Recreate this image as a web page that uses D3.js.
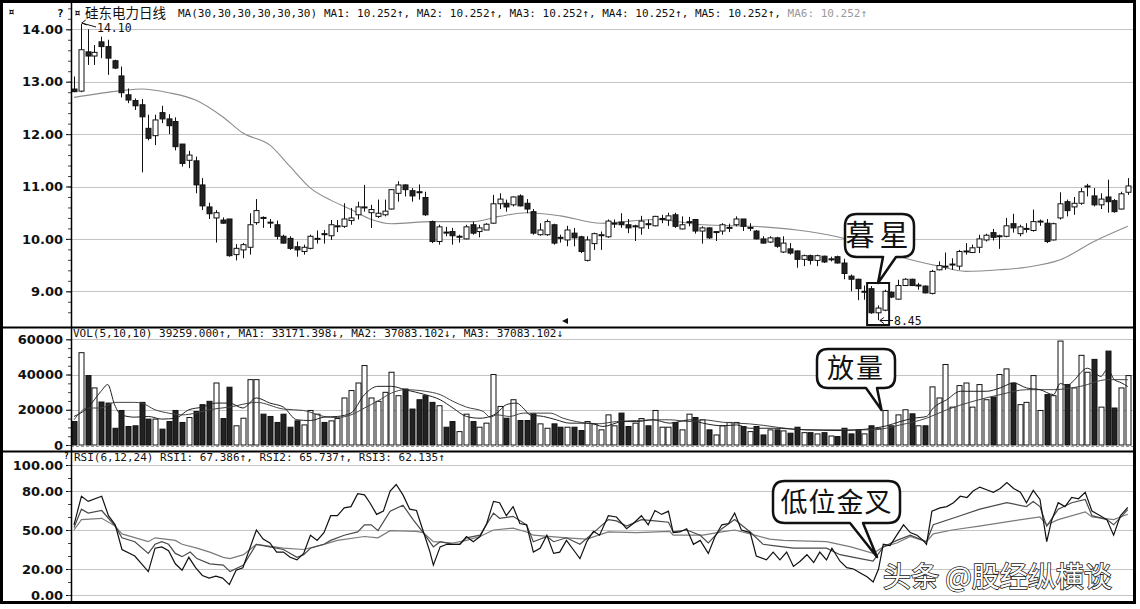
<!DOCTYPE html>
<html><head><meta charset="utf-8">
<script src="https://cdn.jsdelivr.net/npm/d3@7"></script>
<style>body{margin:0;background:#fff}svg{display:block}</style>
</head><body>
<svg id="c" width="1140" height="609"></svg>
<script>
// ---------------- DATA ----------------
const opens = [12.86,12.82,13.57,13.49,13.76,13.67,13.40,13.11,12.75,12.64,
12.56,12.11,11.97,12.41,12.29,12.24,11.81,11.50,11.49,11.03,
10.61,10.40,10.36,10.38,9.70,9.79,9.84,10.31,10.41,10.32,
10.27,10.05,10.01,9.85,9.76,9.82,10.00,10.10,10.06,10.24,
10.24,10.35,10.46,10.60,10.50,10.43,10.46,10.57,10.87,11.03,
10.92,10.90,10.79,10.33,9.95,10.13,10.14,10.05,10.00,10.27,
10.14,10.17,10.30,10.67,10.68,10.65,10.82,10.68,10.52,10.08,
10.08,10.27,10.03,9.98,10.11,10.04,9.59,9.91,10.07,10.04,
10.29,10.32,10.27,10.24,10.21,10.29,10.25,10.38,10.36,10.46,
10.19,10.32,10.37,10.15,10.21,10.13,10.15,10.21,10.27,10.38,
10.21,10.15,10.00,9.94,10.02,9.75,9.81,9.77,9.61,9.68,
9.59,9.67,9.61,9.66,9.54,9.29,9.23,8.99,9.05,8.59,
8.64,8.98,8.85,9.11,9.23,9.11,9.10,8.96,9.41,9.47,
9.51,9.48,9.76,9.74,9.84,9.98,10.12,10.05,10.05,10.29,
10.10,10.19,10.16,10.33,10.30,9.98,10.40,10.71,10.61,10.68,
11.00,10.82,10.65,10.80,10.73,10.57,10.89];
const highs = [13.10,14.10,14.00,13.70,13.86,13.80,13.42,13.29,12.87,12.68,
12.67,12.37,12.37,12.54,12.38,12.32,11.81,11.68,11.57,11.16,
10.69,10.55,10.41,10.38,9.90,9.92,10.49,10.76,10.43,10.38,
10.35,10.08,10.05,9.95,9.89,10.08,10.16,10.17,10.36,10.36,
10.68,10.59,10.71,11.03,10.65,10.75,10.75,10.95,11.10,11.04,
10.97,11.04,10.90,10.35,10.27,10.23,10.21,10.08,10.27,10.33,
10.27,10.30,10.84,10.87,10.75,10.81,10.85,10.76,10.57,10.30,
10.37,10.29,10.08,10.25,10.21,10.06,10.05,10.12,10.14,10.37,
10.37,10.49,10.38,10.27,10.44,10.37,10.44,10.46,10.50,10.50,
10.43,10.42,10.38,10.24,10.22,10.15,10.30,10.29,10.43,10.38,
10.30,10.17,10.05,10.05,10.04,10.05,9.92,9.78,9.70,9.70,
9.70,9.68,9.66,9.68,9.62,9.32,9.24,9.11,9.10,8.73,
9.03,9.00,9.22,9.25,9.24,9.16,9.11,9.41,9.57,9.74,
9.63,9.79,9.92,9.89,10.08,10.10,10.19,10.08,10.40,10.48,
10.27,10.30,10.56,10.37,10.38,10.31,10.89,10.75,10.80,10.97,
11.05,10.97,10.87,11.13,10.76,10.90,11.16];
const lows = [12.80,12.80,13.32,13.32,13.45,13.13,13.24,12.70,12.59,12.46,
11.27,11.88,11.79,12.21,12.00,11.69,11.38,11.35,10.87,10.55,
10.38,9.93,10.29,9.66,9.59,9.63,9.70,10.27,10.21,10.21,
9.99,9.91,9.79,9.66,9.70,9.80,9.91,9.91,9.98,10.13,
10.21,10.27,10.37,10.52,10.21,10.40,10.43,10.56,10.71,10.81,
10.71,10.75,10.44,9.92,9.89,10.05,9.89,9.93,9.99,10.08,
10.03,10.17,10.29,10.57,10.52,10.62,10.62,10.49,10.08,10.06,
10.06,9.89,9.93,9.86,9.86,9.73,9.57,9.79,9.79,10.02,
10.21,10.21,10.11,9.96,10.08,10.19,10.24,10.30,10.25,10.21,
10.18,10.24,10.10,9.91,10.00,9.96,10.08,10.13,10.24,10.15,
10.15,9.99,9.91,9.92,9.83,9.73,9.70,9.45,9.48,9.51,
9.48,9.54,9.57,9.53,9.23,9.00,8.83,8.84,8.57,8.45,
8.62,8.87,8.84,9.10,9.10,9.03,8.96,8.94,9.40,9.41,
9.41,9.41,9.70,9.73,9.73,9.95,9.97,9.81,10.03,10.12,
10.05,10.12,10.14,10.25,9.92,9.97,10.37,10.43,10.46,10.65,
10.81,10.62,10.57,10.50,10.50,10.56,10.84];
const closes = [12.81,13.61,13.49,13.56,13.67,13.45,13.26,12.79,12.65,12.54,
12.33,11.92,12.27,12.29,12.16,11.76,11.44,11.60,11.03,10.63,
10.48,10.50,10.30,9.68,9.82,9.89,10.27,10.54,10.39,10.31,
10.05,9.92,9.82,9.79,9.84,10.05,10.01,10.08,10.27,10.25,
10.38,10.40,10.61,10.61,10.56,10.49,10.53,10.94,11.03,10.94,
10.82,10.89,10.46,9.95,10.23,10.12,10.06,10.05,10.23,10.11,
10.21,10.28,10.67,10.76,10.61,10.80,10.63,10.57,10.11,10.17,
10.33,9.92,10.02,10.17,10.02,9.76,9.98,10.10,10.08,10.34,
10.30,10.27,10.21,10.25,10.34,10.28,10.43,10.39,10.44,10.24,
10.27,10.33,10.15,10.21,10.02,10.14,10.27,10.22,10.38,10.24,
10.22,10.00,9.92,10.02,9.86,9.92,9.73,9.61,9.68,9.59,
9.68,9.56,9.62,9.54,9.34,9.23,9.05,9.00,8.59,8.68,
9.00,8.89,9.11,9.23,9.11,9.12,8.97,9.38,9.49,9.48,
9.52,9.76,9.77,9.83,10.00,10.07,10.03,10.06,10.25,10.21,
10.23,10.20,10.33,10.34,9.95,10.29,10.67,10.54,10.68,10.90,
11.01,10.65,10.76,10.71,10.52,10.86,11.01];
const volumes = [13300,52400,39400,32400,24400,23800,9500,19600,10500,10900,
24200,14700,14700,9000,13300,19600,12800,15600,19000,22900,
24800,35200,15000,32800,10900,15200,37100,37100,17500,16200,
12800,17500,10100,13700,11400,19600,17500,12800,13700,15000,
26700,30900,35200,45100,26700,24800,29900,41300,28000,31800,
20400,25700,28000,24200,22300,10100,13300,7600,17500,13300,
10100,12400,40000,21900,15200,25700,13900,13900,17700,12000,
9500,12000,10100,10100,10100,8200,13300,12000,8600,17100,
10900,18100,10500,12400,15000,10900,19600,10100,10100,12800,
8600,17500,15600,14300,8600,5700,10900,12800,12800,10500,
7600,10500,5700,8600,8600,8000,6700,10100,7000,7000,
6300,7000,5100,4800,9500,6300,8600,6300,10900,9500,
19600,10900,17100,20000,17700,10900,10900,33000,26700,45700,
21500,33700,35200,21500,34300,25700,27200,40000,43200,35200,
22900,24200,39400,19600,28600,28000,59000,34300,32400,50900,
41300,48600,21500,53300,21000,32400,39400];
// price MA30: [candle index, value]
const ma30 = [[1,12.70],[8,12.83],[11,12.86],[15,12.79],[19,12.65],[23,12.33],[26,12.02],[30,11.79],[33,11.38],[36,10.97],[39,10.74],[42,10.56],[45,10.37],[48,10.29],[54,10.33],[60,10.33],[64,10.43],[68,10.50],[73,10.44],[79,10.30],[87,10.37],[94,10.27],[103,10.23],[108,10.17],[114,10.04],[118,9.90],[123,9.67],[129,9.48],[133,9.38],[138,9.41],[142,9.46],[147,9.60],[152,9.95],[157,10.24]];
const volMa5 = [[1,16200],[3,21000],[5,30500],[6,34300],[7,22900],[8,17100],[10,15800],[12,16200],[14,14700],[16,15200],[18,20000],[20,21500],[22,23800],[24,23800],[26,21000],[28,26700],[30,23800],[32,21500],[34,14300],[36,13900],[38,15800],[40,16200],[42,18100],[44,28600],[46,33300],[48,33300],[50,31400],[53,28600],[55.2,25700],[57.1,21000],[59.1,16200],[61.1,15200],[62.6,16200],[63.6,18100],[65,22900],[66.5,23800],[67.5,21000],[68.5,17100],[70.5,16200],[72.4,14300],[74.4,12400],[77.4,12400],[79.3,10500],[82.3,13300],[84.3,13300],[86.7,14300],[89.2,12400],[92.2,14300],[94.1,12400],[97.1,10900],[99.1,11400],[101,9500],[104.5,9500],[109.5,8600],[114.4,8200],[119.3,9500],[121.3,10900],[123.3,13300],[125.3,15200],[127.2,16200],[128.2,21000],[130.2,25700],[132.2,30500],[134.1,30500],[136.1,30500],[138.1,32400],[140.1,35200],[142,32400],[144,31400],[146,28600],[147,34900],[148,33900],[149,36500],[150,40900],[151,43600],[152,41500],[153,38900],[154,43100],[155,37100],[156,35400],[157,33171]];
const volMa10 = [[1,14300],[3,21000],[5,21000],[7,24200],[10,24200],[11,23800],[13,20000],[15,18100],[17,17100],[19,18100],[21,20000],[24,21500],[28,24200],[32,20400],[35,19600],[38,16200],[40,15600],[42,17100],[44,21000],[46,25000],[48,29500],[50,31400],[53,30500],[55.2,28600],[57.1,24800],[59.1,21500],[61.6,19000],[62.6,15800],[63.6,17100],[65.5,16200],[67.5,18100],[69.5,18100],[71.5,18100],[73.4,15200],[75.4,13300],[78.4,12000],[81.3,13300],[84.3,13900],[87.2,14300],[89.2,14300],[92.2,13300],[94.1,14300],[97.1,12900],[101,12000],[109.5,8600],[119.3,8600],[123.3,11400],[127.2,15200],[130.2,20000],[134.1,24800],[138.1,28600],[142,31400],[146,31400],[150,33300],[154,37100],[157,37083]];
const rsi1 = [[1,54],[2.1,76],[3.1,72],[5.1,76],[6.1,61],[7.1,54],[8.1,35],[10,30],[12,18],[13,36],[14,37],[15,34],[16,24],[17,19],[18,29],[19,21],[20,15],[21,13],[22,14.5],[23,13],[24,8],[25,19],[26,21],[28,50],[29,43],[30,40],[31,33],[32,33],[33,29],[34,27],[35,32],[36,46],[37,42],[38,48],[39,61],[40,61],[41,67],[42,68],[43,78],[44,77],[44.8,71],[45.8,62],[46.8,64.5],[47.8,80],[48.7,85],[49.7,77],[50.7,66],[51.7,65],[52.7,49],[53.7,33],[54.2,23],[55.2,37],[56.2,39],[57.1,39],[58.1,39],[59.1,45],[60.1,41],[61.1,45],[62.1,55],[63.1,72],[64,71],[65,61],[66,68],[67,55],[68,54],[69,33],[70,36],[71,46],[72,32],[72.9,33],[73.9,42],[74.9,35],[75.9,28],[76.9,41],[77.9,49],[78.8,46],[80.1,61],[81.3,60],[82.8,51],[83.8,55],[85,61],[86,54],[87,65],[88,62],[89,64.5],[89.7,48],[90.7,48.5],[91.7,51],[92.7,39],[93.7,42],[94.9,32],[95.9,45],[96.9,54],[97.9,55],[98.8,63],[99.8,50],[101.1,48],[102,30],[103.5,27],[104.5,33],[105.5,27],[106.5,33],[107.5,22],[108.5,26],[109.5,31],[110.5,25],[111.4,33],[112.4,27],[113.2,36],[114.4,26],[115.4,21],[116.4,20],[117.4,17],[118.4,14],[119.3,10],[120.1,20],[120.8,39],[121.8,38],[122.8,46],[123.8,54],[124.8,48],[125.8,46],[126.7,42],[127.2,39],[128,64.5],[129.2,67],[130.2,68],[131.2,71],[132.2,76],[133.2,75],[134.1,80],[135.1,83],[136.1,81],[137.1,79],[138.1,82],[139.1,86.5],[140.1,82],[141.1,79],[142,71],[143,80.5],[144,73.5],[145,41],[145.7,57],[146.7,71],[147.7,68],[148.7,75],[149.7,74],[150.7,79],[151.7,64.5],[152.6,62],[153.9,58],[154.9,46],[155.9,61],[157,67.4]];
const rsi2 = [[1,52],[2.1,66],[3.1,63],[5.1,65],[7.1,53],[8.1,44],[10,41],[12,32],[13,39],[14,41],[15,39],[16,32],[17,29.5],[18.2,33],[19.2,28],[21.1,24],[23.1,23],[24.1,18],[26.1,23],[28,39],[30,37],[32,35],[34,29],[35,31],[36,36],[38,39],[39,42],[41,46],[43,48.5],[44,54],[45,54],[46,49.5],[47.8,64.5],[49.7,69],[51.2,58],[52.7,48],[54.2,37],[55.2,41],[57.1,39],[58.1,39],[59.1,44],[61.1,46],[63.1,63],[64,59],[66,60.5],[68,54],[69,41],[71,45],[72,41],[73.9,44],[75.9,39],[77.9,48],[80.1,58],[81.3,57],[82.8,53],[85,58],[87,57],[89,56],[89.7,48.5],[91.7,50],[93.7,46],[94.9,40],[96.9,51],[98.8,58],[101.1,48.5],[103,39],[104.5,38],[107.5,36],[112.4,36],[114.4,31],[117.4,28],[119.3,26],[120.8,37],[122.8,42],[124.8,46],[127.2,41],[128.2,54],[132.2,61],[135.1,66],[139.1,71],[142,68],[143,72],[144,68],[145,53],[146.7,66],[148.7,71],[150.7,73.5],[151.7,61],[153.9,58],[154.9,54],[157,65.7]];
const rsi3 = [[1,50],[2.1,58],[5.1,59],[7.1,53],[8.1,47],[12,41],[13,44],[16,42],[17,39],[19.2,36],[21.1,33],[23.1,29],[24.1,28],[26.1,31],[28,39],[32,36],[35,35],[38,39],[40,42],[44,45],[46,44],[47.8,49.5],[51.7,49],[52.7,48],[54.2,41],[57.1,40],[59.1,42],[61.1,45],[63.1,50],[66,51.5],[68,48.5],[69,46],[73.9,44],[76.9,43],[80.1,48.5],[84.3,48],[89.2,49],[89.7,46],[94.1,46],[96.9,48.5],[98.8,50],[101.1,47],[104,43],[106,42],[112.4,41],[116,37],[119.3,32],[120.8,37],[122.8,40],[124.8,45],[127.2,41],[128.2,47],[131,50],[135,53],[140,57],[144,60],[145,54],[146.7,58],[150.7,64],[151.7,60],[154.9,58],[157,62.1]];
const priceTicks = [9,10,11,12,13,14];
const volTicks = [0,20000,40000,60000];
const rsiTicks = [0,20,50,80,100];
const titleName = "硅东电力日线";
const titleMA = "MA(30,30,30,30,30,30)";
const maLabels = ["MA1: 10.252↑, ","MA2: 10.252↑, ","MA3: 10.252↑, ","MA4: 10.252↑, ","MA5: 10.252↑, ","MA6: 10.252↑"];
const volHeader = "VOL(5,10,10) 39259.000↑, MA1: 33171.398↓, MA2: 37083.102↓, MA3: 37083.102↓";
const rsiHeader = "RSI(6,12,24) RSI1: 67.386↑, RSI2: 65.737↑, RSI3: 62.135↑";

// ---------------- CHART ----------------
const N = closes.length;
const svg = d3.select("#c");
const PL = 71, PR = 1133;
const x = d3.scaleLinear().domain([1, N]).range([74, 1127.8]);
const yP = d3.scaleLinear().domain([9, 14]).range([291.3, 29.3]);
const yV = d3.scaleLinear().domain([0, 60000]).range([445, 339.3]);
const yR = d3.scaleLinear().domain([0, 100]).range([595, 465]);
const mono = "'DejaVu Sans Mono','Liberation Mono',monospace";
const cjk = "'Noto Sans CJK SC','Noto Sans',sans-serif";

svg.append("rect").attr("width",1140).attr("height",609).attr("fill","#fff");

// grid lines
const grid = svg.append("g").attr("stroke","#c4c4c4").attr("stroke-width",1);
priceTicks.forEach(v=>grid.append("line").attr("x1",PL).attr("x2",PR).attr("y1",Math.round(yP(v))+0.5).attr("y2",Math.round(yP(v))+0.5));
volTicks.filter(v=>v>0).forEach(v=>grid.append("line").attr("x1",PL).attr("x2",PR).attr("y1",Math.round(yV(v))+0.5).attr("y2",Math.round(yV(v))+0.5));
grid.append("line").attr("x1",PL).attr("x2",PR).attr("y1",446.5).attr("y2",446.5).attr("stroke","#999").attr("stroke-dasharray","3,2");
rsiTicks.forEach(v=>grid.append("line").attr("x1",PL).attr("x2",PR).attr("y1",Math.round(yR(v))+0.5).attr("y2",Math.round(yR(v))+0.5));

// axes
function axis(scale, ticks, fmt, minor){
  const g = svg.append("g").attr("transform",`translate(${PL},0)`);
  g.call(d3.axisLeft(scale).tickValues(ticks).tickFormat(fmt).tickSize(5).tickPadding(3));
  g.select(".domain").remove();
  g.selectAll("text").attr("font-family","'DejaVu Sans',sans-serif").attr("font-weight","bold").attr("font-size",13).attr("fill","#111");
  g.selectAll("line").attr("stroke","#000");
  const m = svg.append("g").attr("transform",`translate(${PL},0)`);
  m.call(d3.axisLeft(scale).tickValues(minor).tickFormat("").tickSize(3));
  m.select(".domain").remove();
  m.selectAll("line").attr("stroke","#444");
}
axis(yP, priceTicks, d3.format(".2f"), d3.range(8.6, 14.41, 0.2));
axis(yV, volTicks, d3.format("d"), d3.range(0, 64001, 5000));
axis(yR, rsiTicks, d3.format(".2f"), d3.range(0, 101, 10));

// MA30 line
const lineP = d3.line().x(d=>x(d[0])).y(d=>yP(d[1])).curve(d3.curveMonotoneX);
svg.append("path").attr("d",lineP(ma30)).attr("fill","none").attr("stroke","#8c8c8c").attr("stroke-width",1.1);

// candles
const idx = d3.range(N);
const cg = svg.append("g");
cg.selectAll("line.w").data(idx).join("line")
  .attr("x1",i=>Math.round(x(i+1))+0.5).attr("x2",i=>Math.round(x(i+1))+0.5)
  .attr("y1",i=>yP(highs[i])).attr("y2",i=>yP(lows[i]))
  .attr("stroke","#111").attr("stroke-width",1);
cg.selectAll("rect").data(idx).join("rect")
  .attr("x",i=>Math.round(x(i+1))-2)
  .attr("y",i=>yP(Math.max(opens[i],closes[i])))
  .attr("width",5)
  .attr("height",i=>Math.max(1,Math.abs(yP(opens[i])-yP(closes[i]))))
  .attr("fill",i=>closes[i]>=opens[i]?"#fff":"#222")
  .attr("stroke","#111").attr("stroke-width",1);

// volume bars
svg.append("g").selectAll("rect").data(idx).join("rect")
  .attr("x",i=>Math.round(x(i+1))-2)
  .attr("y",i=>yV(volumes[i]))
  .attr("width",5)
  .attr("height",i=>yV(0)-yV(volumes[i]))
  .attr("fill",i=>closes[i]>=opens[i]?"#fff":"#222")
  .attr("stroke","#111").attr("stroke-width",1);
const lineV = d3.line().x(d=>x(d[0])).y(d=>yV(d[1])).curve(d3.curveMonotoneX);
svg.append("path").attr("d",lineV(volMa10)).attr("fill","none").attr("stroke","#444").attr("stroke-width",1);
svg.append("path").attr("d",lineV(volMa5)).attr("fill","none").attr("stroke","#222").attr("stroke-width",1);

// RSI lines
const lineR = d3.line().x(d=>x(d[0])).y(d=>yR(d[1]));
svg.append("path").attr("d",lineR(rsi3)).attr("fill","none").attr("stroke","#7a7a7a").attr("stroke-width",1.2);
svg.append("path").attr("d",lineR(rsi2)).attr("fill","none").attr("stroke","#4a4a4a").attr("stroke-width",1.2);
svg.append("path").attr("d",lineR(rsi1)).attr("fill","none").attr("stroke","#111").attr("stroke-width",1.2);

// frame
svg.append("line").attr("x1",PL+0.5).attr("x2",PL+0.5).attr("y1",3).attr("y2",602).attr("stroke","#000").attr("stroke-width",1.5);
svg.append("line").attr("x1",0).attr("x2",1136).attr("y1",327.5).attr("y2",327.5).attr("stroke","#000").attr("stroke-width",2);
svg.append("line").attr("x1",0).attr("x2",1136).attr("y1",451.5).attr("y2",451.5).attr("stroke","#000").attr("stroke-width",2);
svg.append("rect").attr("x",1.5).attr("y",1.5).attr("width",1133).attr("height",601).attr("fill","none").attr("stroke","#000").attr("stroke-width",3);

// headers
svg.append("text").attr("x",8).attr("y",16).attr("font-family",mono).attr("font-size",11).attr("font-weight","bold").text("¤");
svg.append("text").attr("x",57).attr("y",17).attr("font-family",mono).attr("font-size",11).attr("font-weight","bold").text("?");
svg.append("text").attr("x",74).attr("y",17).attr("font-family",mono).attr("font-size",11).attr("font-weight","bold").text("¤");
svg.append("text").attr("x",85).attr("y",18).attr("font-family",cjk).attr("font-size",13.5).attr("fill","#111").text(titleName);
svg.append("text").attr("x",178).attr("y",17).attr("font-family",mono).attr("font-size",11).attr("fill","#111").text(titleMA);
const mt = svg.append("text").attr("x",324).attr("y",17).attr("font-family",mono).attr("font-size",11).attr("fill","#111").attr("xml:space","preserve");
maLabels.forEach((s,k)=>mt.append("tspan").attr("fill",k===5?"#999":"#111").text(s));
svg.append("text").attr("x",73).attr("y",337).attr("font-family",mono).attr("font-size",11).attr("fill","#111").text(volHeader);
svg.append("text").attr("x",74).attr("y",461).attr("font-family",mono).attr("font-size",11).attr("fill","#111").text(rsiHeader);
svg.append("text").attr("x",64).attr("y",459).attr("font-family",mono).attr("font-size",8).attr("font-weight","bold").text("?");
// little marker
svg.append("path").attr("d","M562,321 L568,318 L568,324 Z").attr("fill","#111");

// high / low annotations
svg.append("path").attr("d",`M${x(2)+1},23 L96,27 M${x(2)+5},20 L${x(2)+1},23 L${x(2)+6},25`).attr("fill","none").attr("stroke","#111");
svg.append("text").attr("x",97).attr("y",32).attr("font-family",mono).attr("font-size",11.5).attr("fill","#111").text(d3.format(".2f")(d3.max(highs)));
svg.append("path").attr("d",`M${x(120)+2},320.5 L893,320.5 M${x(120)+6},317.5 L${x(120)+2},320.5 L${x(120)+6},323.5`).attr("fill","none").attr("stroke","#111");
svg.append("text").attr("x",894).attr("y",325).attr("font-family",mono).attr("font-size",11.5).attr("fill","#111").text(d3.format(".2f")(d3.min(lows)));
// box around evening star candles
svg.append("rect").attr("x",x(119)-4).attr("y",283).attr("width",x(121)-x(119)+8.5).attr("height",42)
  .attr("fill","none").attr("stroke","#111").attr("stroke-width",2);

// speech bubbles
function bubble(x0,y0,x1,y1,r,tb1,tb2,tip,label,fs,ls){
  const p = `M${x0+r},${y0} H${x1-r} Q${x1},${y0} ${x1},${y0+r} V${y1-r} Q${x1},${y1} ${x1-r},${y1} H${tb2} L${tip[0]},${tip[1]} L${tb1},${y1} H${x0+r} Q${x0},${y1} ${x0},${y1-r} V${y0+r} Q${x0},${y0} ${x0+r},${y0} Z`;
  svg.append("path").attr("d",p).attr("fill","#fff").attr("stroke","#111").attr("stroke-width",2.5).attr("stroke-linejoin","round");
  svg.append("text").attr("x",(x0+x1)/2).attr("y",(y0+y1)/2).attr("dy","0.36em").attr("text-anchor","middle")
    .attr("font-family",cjk).attr("font-size",fs).attr("letter-spacing",ls).attr("fill","#111").text(label);
}
bubble(845,214,914,257,12,883,896,[878,283],"暮星",29,5);
bubble(817,349,895,388,11,866,877,[881.5,410],"放量",27,2);
bubble(773,481,900,523,12,850,863,[877,557],"低位金叉",27,1);

// watermark
svg.append("text").attr("x",883).attr("y",587).attr("font-family",cjk).attr("font-size",28)
  .attr("fill","#fff").attr("stroke","#222").attr("stroke-width",1.6).attr("paint-order","stroke").text("头条 @股经纵横谈");
</script>
</body></html>
